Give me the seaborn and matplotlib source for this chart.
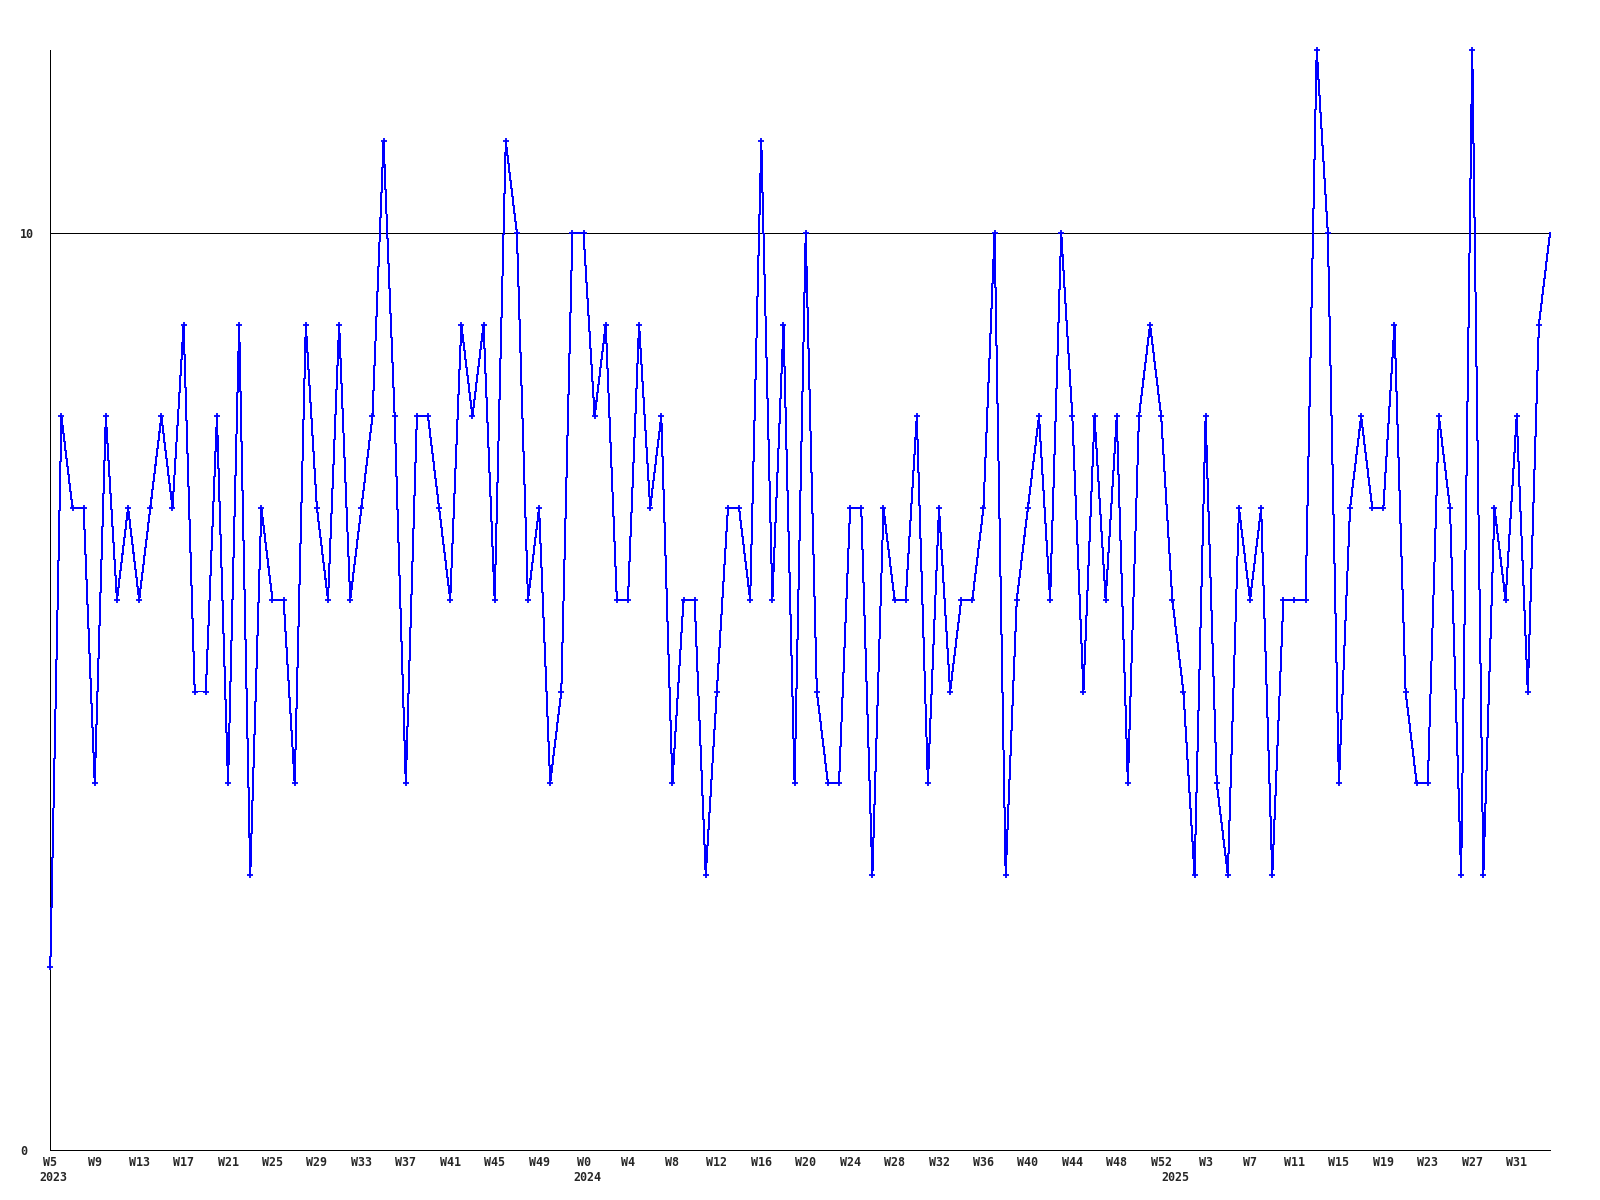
import matplotlib
matplotlib.use("Agg")
import matplotlib.pyplot as plt
import seaborn as sns
import numpy as np
import pandas as pd

# ---- data ----
values = [
    2, 8, 7, 7, 4, 8, 6, 7, 6, 7, 8, 7, 9, 5, 5, 8, 4, 9, 3, 7,
    6, 6, 4, 9, 7, 6, 9, 6, 7, 8, 11, 8, 4, 8, 8, 7, 6, 9, 8, 9,
    6, 11, 10, 6, 7, 4, 5, 10, 10, 8, 9, 6, 6, 9, 7, 8, 4, 6, 6, 3,
    5, 7, 7, 6, 11, 6, 9, 4, 10, 5, 4, 4, 7, 7, 3, 7, 6, 6, 8, 4,
    7, 5, 6, 6, 7, 10, 3, 6, 7, 8, 6, 10, 8, 5, 8, 6, 8, 4, 8, 9,
    8, 6, 5, 3, 8, 4, 3, 7, 6, 7, 3, 6, 6, 6, 12, 10, 4, 7, 8, 7,
    7, 9, 5, 4, 4, 8, 7, 3, 12, 3, 7, 6, 8, 5, 9, 10,
]
week_labels = [
    "W5", "W9", "W13", "W17", "W21", "W25", "W29", "W33", "W37", "W41", "W45", "W49",
    "W0", "W4", "W8", "W12", "W16", "W20", "W24", "W28", "W32", "W36", "W40", "W44",
    "W48", "W52",
    "W3", "W7", "W11", "W15", "W19", "W23", "W27", "W31",
]
label_step = 4
year_labels = ["2023", "2024", "2025"]
year_start_index = [0, 48, 101]
reference_value = 10
y_ticks = [0, 10]

df = pd.DataFrame({"idx": np.arange(len(values)), "value": values})

# ---- style ----
sns.set_theme(style="white")
plt.rcParams["font.family"] = ["DejaVu Sans Mono", "DejaVu Sans"]
plt.rcParams["font.weight"] = "bold"
FS = 8.4
BLUE = "#0000ff"

fig = plt.figure(figsize=(16, 12), dpi=100)
W, H = 1600, 1200
x0, x1 = 50.3, 1550.0
ytop, ybot = 49.6, 1150.0
ax = fig.add_axes([x0 / W, 1 - ybot / H, (x1 - x0) / W, (ybot - ytop) / H])

ax.axhline(reference_value, color="black", lw=0.72, zorder=1, antialiased=False)

n = len(values)
sns.lineplot(data=df, x="idx", y="value", ax=ax, color=BLUE,
             linewidth=0.72, marker="+", markersize=5, markeredgewidth=1.3,
             markeredgecolor=BLUE, markerfacecolor=BLUE,
             markevery=list(range(n - 1)), clip_on=False, zorder=3,
             antialiased=False)

ax.set_xlim(0, n - 1)
ax.set_ylim(0, 12)
ax.set_xlabel("")
ax.set_ylabel("")

for side in ["top", "right"]:
    ax.spines[side].set_visible(False)
for side in ["left", "bottom"]:
    ax.spines[side].set_color("black")
    ax.spines[side].set_linewidth(0.72)
    ax.spines[side].set_antialiased(False)

# y ticks
ax.set_yticks(y_ticks)
ax.set_yticklabels([str(t) for t in y_ticks], fontsize=FS, fontweight="bold")
ax.tick_params(axis="y", length=0, pad=21.6)
for lab in ax.get_yticklabels():
    lab.set_horizontalalignment("left")

# x ticks
xt = list(range(0, label_step * len(week_labels), label_step))
ax.set_xticks(xt)
ax.set_xticklabels(week_labels, fontsize=FS, fontweight="bold")
ax.tick_params(axis="x", length=0, pad=4.5)

# year labels
for yl, si in zip(year_labels, year_start_index):
    ax.annotate(yl, xy=(si, 0), xycoords=("data", "axes fraction"),
                xytext=(-7.6, -15.2), textcoords="offset points",
                ha="left", va="top", fontsize=FS, fontweight="bold",
                annotation_clip=False)

ax.grid(False)
fig.savefig("out.png", dpi=100, facecolor="white")
